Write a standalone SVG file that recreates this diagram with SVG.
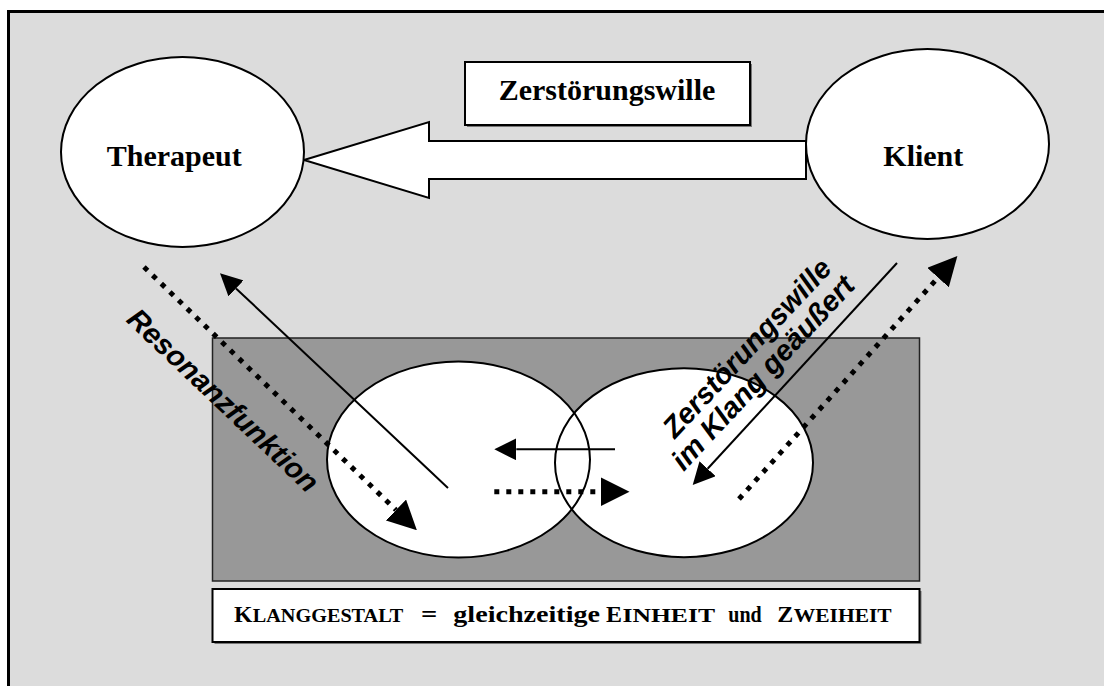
<svg xmlns="http://www.w3.org/2000/svg" width="1104" height="686" viewBox="0 0 1104 686">
<style>
.node{fill:#fff;stroke:#000;stroke-width:2}
.ser{font-family:"Liberation Serif","Times New Roman",serif;font-weight:bold;fill:#000}
.sans{font-family:"Liberation Sans",Arial,sans-serif;font-weight:bold;font-style:italic;fill:#000;font-size:29px}
.solid{stroke:#000;stroke-width:2;fill:none}
.dot{stroke:#000;stroke-width:5;fill:none;stroke-dasharray:5 7}
.big{font-size:24px}
.sc{font-size:19px}
</style>
<defs>
<marker id="hs" markerUnits="userSpaceOnUse" markerWidth="22" markerHeight="22" viewBox="0 0 22 22" refX="0" refY="11" orient="auto"><path d="M0,0 L22,11 L0,22 z" fill="#000"/></marker>
<marker id="hd" markerUnits="userSpaceOnUse" markerWidth="29" markerHeight="29" viewBox="0 0 29 29" refX="0" refY="14.5" orient="auto"><path d="M0,0 L29,14.5 L0,29 z" fill="#000"/></marker>
</defs>
<rect x="0" y="0" width="1104" height="686" fill="#fff"/>
<rect x="8.5" y="11.5" width="1110" height="690" fill="#dcdcdc" stroke="#000" stroke-width="3"/>

<g id="panel">
<rect x="212.5" y="338" width="707" height="243" fill="#989898" stroke="#222" stroke-width="1.5"/>
<ellipse cx="458.5" cy="459.5" rx="131.5" ry="98" fill="#fff"/>
<ellipse cx="684" cy="462.7" rx="129" ry="94.5" fill="#fff"/>
<ellipse cx="458.5" cy="459.5" rx="131.5" ry="98" class="solid"/>
<ellipse cx="684" cy="462.7" rx="129" ry="94.5" class="solid"/>
</g>

<g id="bottom-box">
<rect x="214.5" y="591" width="707" height="53" fill="#777"/>
<rect x="212.5" y="589" width="707" height="53" class="node"/>
<text class="ser" y="622" lengthAdjust="spacingAndGlyphs"><tspan class="big" x="234" textLength="18.5" lengthAdjust="spacingAndGlyphs">K</tspan><tspan class="sc" x="252.8" textLength="150.5" lengthAdjust="spacingAndGlyphs">LANGGESTALT</tspan><tspan class="big" x="421" textLength="16.3" lengthAdjust="spacingAndGlyphs">=</tspan><tspan class="big" x="453.3" textLength="146.7" lengthAdjust="spacingAndGlyphs">gleichzeitige</tspan><tspan class="big" x="606" textLength="16" lengthAdjust="spacingAndGlyphs">E</tspan><tspan class="sc" x="622.5" textLength="92.5" lengthAdjust="spacingAndGlyphs">INHEIT</tspan><tspan class="big" x="728.3" textLength="33.4" lengthAdjust="spacingAndGlyphs">und</tspan><tspan class="big" x="777.3" textLength="16" lengthAdjust="spacingAndGlyphs">Z</tspan><tspan class="sc" x="793.8" textLength="97.9" lengthAdjust="spacingAndGlyphs">WEIHEIT</tspan></text>
</g>

<g id="big-arrow">
<polygon points="304,160 429,122 429,141 806,141 806,179 429,179 429,198" class="node"/>
</g>

<g id="therapeut">
<ellipse cx="182.5" cy="152" rx="121.5" ry="95" class="node"/>
<text class="ser" x="174.3" y="165.5" font-size="30" text-anchor="middle">Therapeut</text>
</g>

<g id="klient">
<ellipse cx="927.5" cy="144" rx="121.5" ry="95" class="node"/>
<text class="ser" x="923.3" y="165.5" font-size="30" text-anchor="middle">Klient</text>
</g>

<g id="label-box">
<rect x="467" y="64" width="285" height="63" fill="#777"/>
<rect x="465" y="62" width="285" height="63" class="node"/>
<text class="ser" x="607" y="100" font-size="30" text-anchor="middle">Zerstörungswille</text>
</g>

<g id="connectors">
<line x1="448" y1="488" x2="236" y2="288.4" class="solid" marker-end="url(#hs)"/>
<line x1="144" y1="267" x2="396" y2="510" class="dot" marker-end="url(#hd)"/>
<line x1="897" y1="263" x2="707.6" y2="468.8" class="solid" marker-end="url(#hs)"/>
<line x1="739" y1="499" x2="938" y2="277.6" class="dot" marker-end="url(#hd)"/>
<line x1="615" y1="449.3" x2="516.3" y2="449.3" class="solid" marker-end="url(#hs)"/>
<line x1="494.3" y1="491.7" x2="600.5" y2="491.7" class="dot" marker-end="url(#hd)"/>
</g>

<g id="labels">
<text class="sans" text-anchor="middle" transform="translate(216.3,407.5) rotate(43.5)">Resonanzfunktion</text>
<text class="sans" text-anchor="middle" transform="translate(754,354.6) rotate(-47)">Zerstörungswille</text>
<text class="sans" text-anchor="middle" transform="translate(770,379.5) rotate(-47)">im Klang geäußert</text>
</g>
</svg>
